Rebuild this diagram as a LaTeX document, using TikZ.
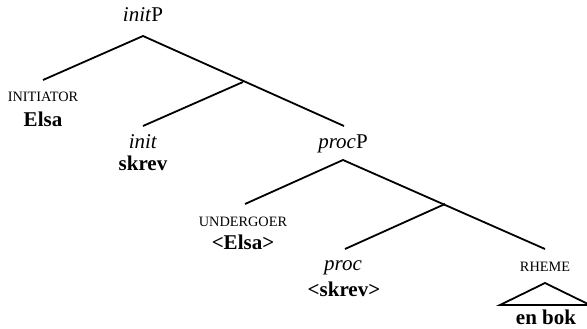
\documentclass[tikz,border=0pt]{standalone}
\usepackage{fontspec}
\setmainfont{Liberation Serif}
\begin{document}
\begin{tikzpicture}[x=1pt,y=-1pt,
  branch/.style={line width=1.8pt, line cap=butt},
  cat/.style={inner sep=0pt, anchor=base, font=\fontsize{21}{23}\selectfont},
  role/.style={inner sep=0pt, anchor=base, font=\fontsize{14.3}{16}\selectfont},
  word/.style={inner sep=0pt, anchor=base, font=\fontsize{21}{23}\selectfont\bfseries}]
\useasboundingbox (0,0) rectangle (587,329);
% branch points
\coordinate (initTop) at (143,36);
\coordinate (initL) at (43,80);
\coordinate (initMid) at (243,82);
\coordinate (initHead) at (143,126);
\coordinate (initR) at (344,126);
\coordinate (procTop) at (343,160);
\coordinate (procL) at (245,204);
\coordinate (procMid) at (445,204);
\coordinate (procHead) at (345,249);
\coordinate (procR) at (545,249);
\coordinate (triTop) at (545,283);
\coordinate (triL) at (500,305);
\coordinate (triR) at (590,305);
% labels
\node[cat] (initP) at (143,22) {\textit{init}P};
\node[role] (initiator) at (43,102) {INITIATOR};
\node[word] (elsa) at (43,126) {Elsa};
\node[cat] (init) at (143,148) {\textit{init}};
\node[word] (skrev) at (143,170) {skrev};
\node[cat] (procP) at (343,148) {\textit{proc}P};
\node[role] (undergoer) at (243,226) {UNDERGOER};
\node[word] (elsa2) at (243,249) {<Elsa>};
\node[cat] (proc) at (343,270) {\textit{proc}};
\node[word] (skrev2) at (344,296) {<skrev>};
\node[role] (rheme) at (545,271) {RHEME};
\node[word] (enbok) at (546,324.5) {en bok};
% tree
\draw[branch] (initL) -- (initTop) -- (initR);
\draw[branch] (initHead) -- (initMid);
\draw[branch] (procL) -- (procTop) -- (procR);
\draw[branch] (procHead) -- (procMid);
\draw[branch, line join=miter] (triL) -- (triTop) -- (triR) -- cycle;
\end{tikzpicture}
\end{document}
